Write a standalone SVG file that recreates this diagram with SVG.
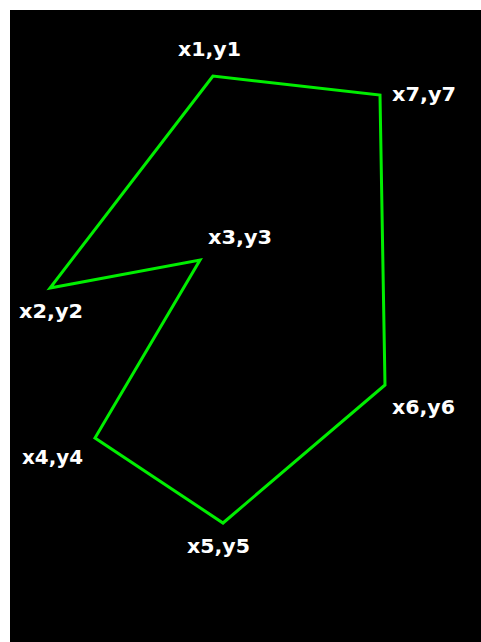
<svg xmlns="http://www.w3.org/2000/svg" width="481" height="642" viewBox="0 0 481 642">
<style>
.lbl{font-family:"DejaVu Sans","Liberation Sans",sans-serif;font-weight:bold;font-size:20px;fill:#ffffff}
.poly{fill:none;stroke:#00ee00;stroke-width:3;stroke-linejoin:miter}
</style>
<rect x="0" y="0" width="481" height="642" fill="#ffffff"/>
<rect x="10" y="10" width="471" height="632" fill="#000000"/>
<g id="connectors">
<polygon class="poly" points="213,76 50,288 200,260 95,438 223,523 385,385 380,95"/>
</g>
<g id="p1"><text class="lbl" x="178" y="56" textLength="63" lengthAdjust="spacingAndGlyphs">x1,y1</text></g>
<g id="p2"><text class="lbl" x="19" y="318" textLength="64" lengthAdjust="spacingAndGlyphs">x2,y2</text></g>
<g id="p3"><text class="lbl" x="208" y="244" textLength="64" lengthAdjust="spacingAndGlyphs">x3,y3</text></g>
<g id="p4"><text class="lbl" x="22" y="464" textLength="61" lengthAdjust="spacingAndGlyphs">x4,y4</text></g>
<g id="p5"><text class="lbl" x="187" y="553" textLength="63" lengthAdjust="spacingAndGlyphs">x5,y5</text></g>
<g id="p6"><text class="lbl" x="392" y="414" textLength="63" lengthAdjust="spacingAndGlyphs">x6,y6</text></g>
<g id="p7"><text class="lbl" x="392" y="101" textLength="64" lengthAdjust="spacingAndGlyphs">x7,y7</text></g>
</svg>
